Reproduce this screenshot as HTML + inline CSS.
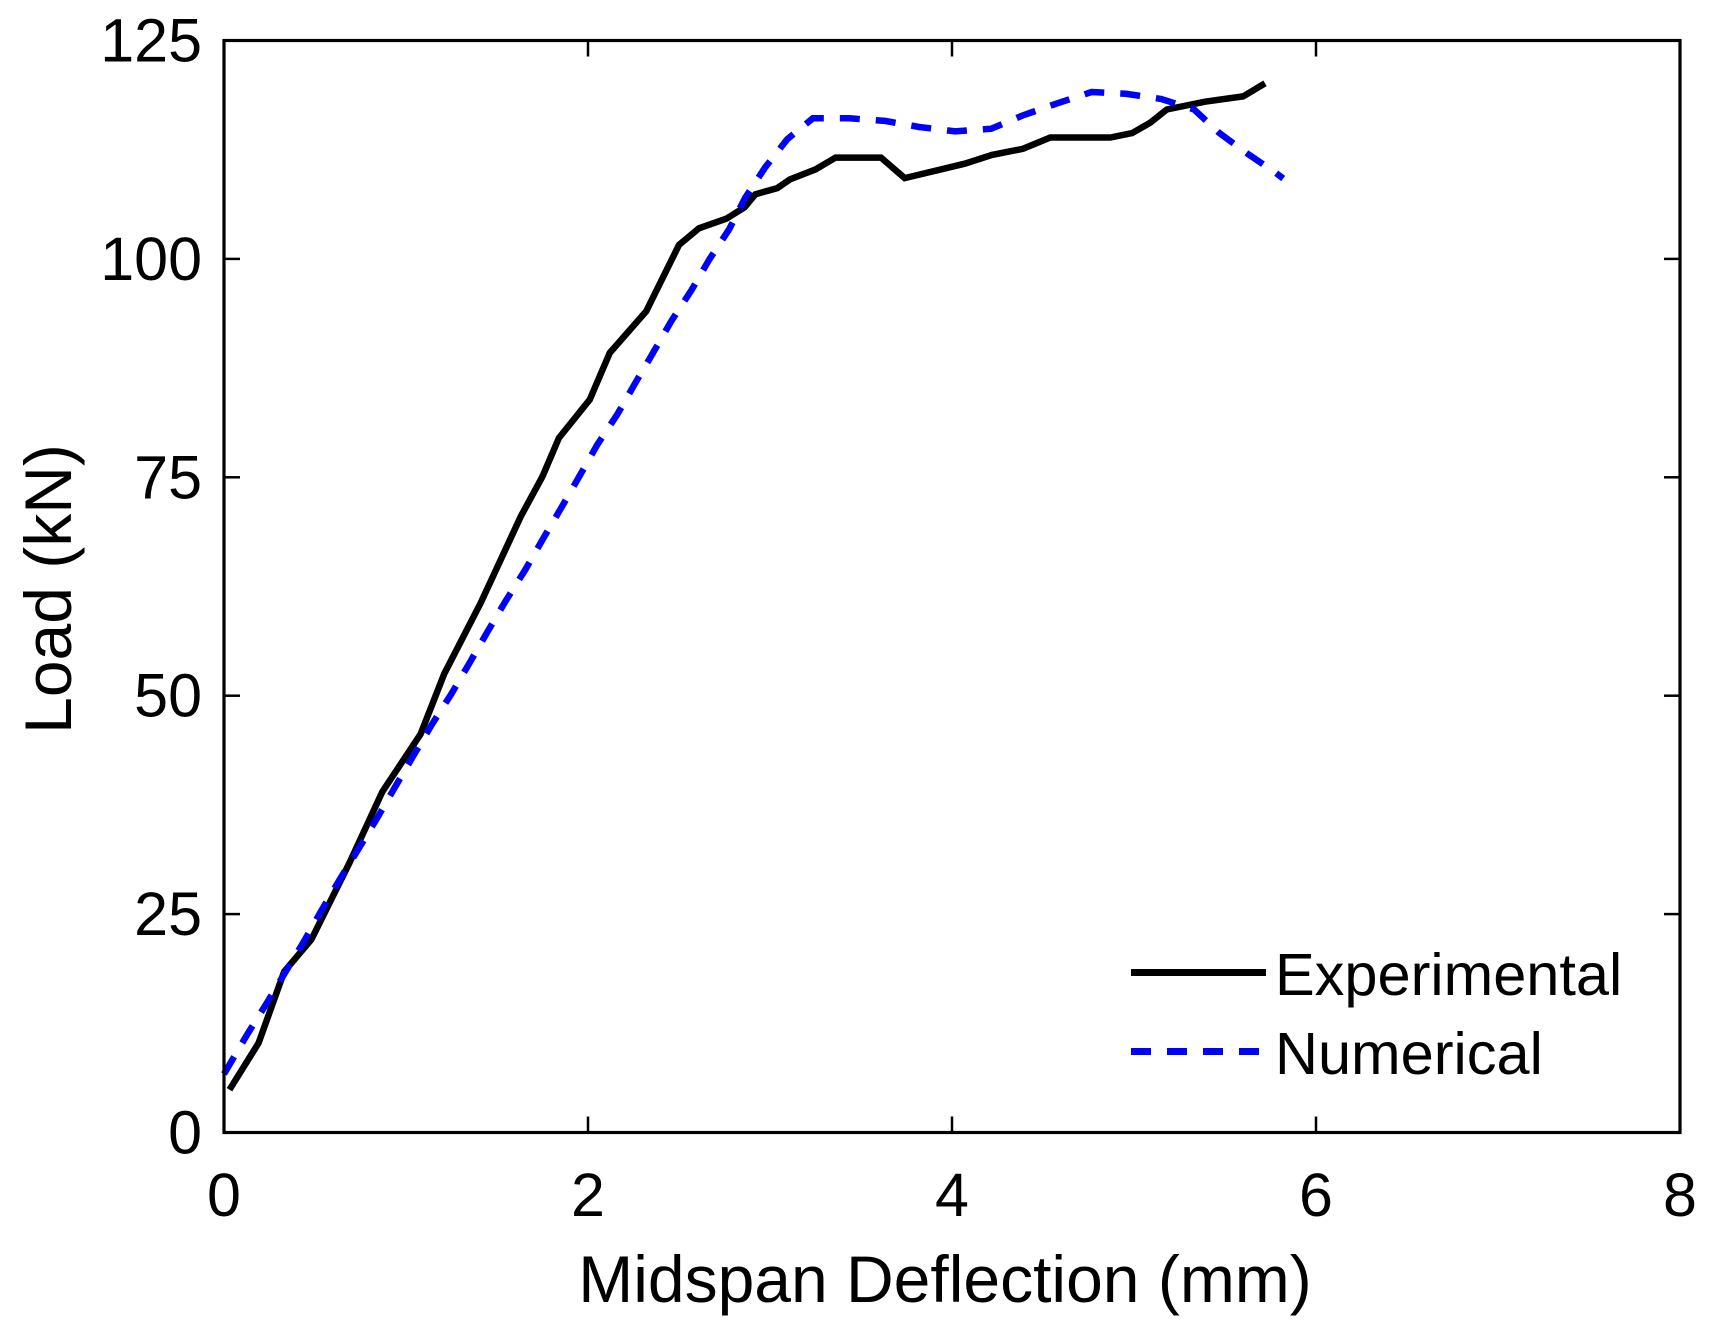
<!DOCTYPE html>
<html lang="en">
<head>
<meta charset="utf-8">
<title>Load vs Midspan Deflection</title>
<style>
html,body{margin:0;padding:0;background:#fff;}
svg{display:block;}
text{font-family:"Liberation Sans",Arial,sans-serif;fill:#000;}
</style>
</head>
<body>
<svg id="chart" xmlns="http://www.w3.org/2000/svg" width="1711" height="1335" viewBox="0 0 1711 1335">
  <rect x="0" y="0" width="1711" height="1335" fill="#fff"/>
  <g id="series"></g>
  <g id="axes"></g>
  <g id="legend"></g>
</svg>
<script>
const xTicks = [0, 2, 4, 6, 8];
const yTicks = [0, 25, 50, 75, 100, 125];
const expDeflection = [0.03,0.19,0.33,0.48,0.69,0.87,1.08,1.21,1.41,1.63,1.75,1.84,2.01,2.12,2.32,2.5,2.61,2.76,2.86,2.92,3.04,3.11,3.25,3.36,3.61,3.74,4.07,4.22,4.39,4.54,4.87,4.99,5.09,5.18,5.39,5.6,5.72];
const expLoad = [4.9,10.25,18.4,22.1,30.9,39,45.6,52.5,60.6,70.5,75.1,79.5,83.9,89.25,94,101.6,103.5,104.6,105.9,107.4,108.1,109.1,110.25,111.6,111.6,109.25,110.9,111.9,112.6,113.9,113.9,114.4,115.6,117.1,118,118.6,120.1];
const numDeflection = [0,0.128,0.231,0.337,0.436,0.535,0.634,0.74,0.842,0.941,1.037,1.139,1.249,1.348,1.447,1.546,1.655,1.754,1.853,1.952,2.05,2.161,2.26,2.359,2.458,2.568,2.667,2.776,2.864,2.974,3.095,3.235,3.437,3.632,3.82,4.017,4.216,4.386,4.577,4.767,4.955,5.15,5.33,5.47,5.62,5.776,5.82];
const numLoad = [6.7,11.24,14.67,18.34,21.77,25.4,28.9,32.5,36,39.6,43,46.6,50.2,53.7,57.3,60.8,64.4,68,71.5,75.1,78.7,82.2,85.8,89.3,92.9,96.4,99.95,103.4,107,110.5,113.7,116.1,116.1,115.8,115.1,114.6,114.9,116.4,117.8,119.1,118.9,118.3,117.1,114.4,112.1,109.9,109.2];

const NS = 'http://www.w3.org/2000/svg';
const plotLeft = 224, plotRight = 1680, plotTop = 40.5, plotBottom = 1132.5;
const xMin = 0, xMax = 8, yMin = 0, yMax = 125;
function xScale(v){ return plotLeft + (v - xMin) / (xMax - xMin) * (plotRight - plotLeft); }
function yScale(v){ return plotBottom - (v - yMin) / (yMax - yMin) * (plotBottom - plotTop); }
function make(tag, attrs, parent, txt){
  const el = document.createElementNS(NS, tag);
  for (const k in attrs) el.setAttribute(k, attrs[k]);
  if (txt !== undefined) el.textContent = txt;
  parent.appendChild(el);
  return el;
}
function pathFrom(xs, ys){
  return xs.map((x, i) => (i ? 'L' : 'M') + xScale(x).toFixed(1) + ' ' + yScale(ys[i]).toFixed(1)).join(' ');
}

const seriesG = document.getElementById('series');
const axesG = document.getElementById('axes');
const legendG = document.getElementById('legend');

const expLine = make('path', {d: pathFrom(expDeflection, expLoad), fill:'none', stroke:'#000', 'stroke-width':6.5, 'stroke-linejoin':'miter'}, seriesG);


const numLine = make('path', {d: pathFrom(numDeflection, numLoad), fill:'none', stroke:'#0000ff', 'stroke-width':6.5, 'stroke-dasharray':'20 16'}, seriesG);



const frame = make('rect', {x:plotLeft, y:plotTop, width:plotRight-plotLeft, height:plotBottom-plotTop, fill:'none', stroke:'#000', 'stroke-width':3.2}, axesG);



const tickLen = 16;
xTicks.forEach(function(t){
  const x = xScale(t);
  const tb = make('line', {x1:x, x2:x, y1:plotBottom, y2:plotBottom-tickLen, stroke:'#000', 'stroke-width':2.5}, axesG);
  
  
  const tt = make('line', {x1:x, x2:x, y1:plotTop, y2:plotTop+tickLen, stroke:'#000', 'stroke-width':2.5}, axesG);
  
  
  const lb = make('text', {x:x, y:1216, 'font-size':61, 'text-anchor':'middle'}, axesG, String(t));
  
  
});
yTicks.forEach(function(t){
  const y = yScale(t);
  const tl = make('line', {x1:plotLeft, x2:plotLeft+tickLen, y1:y, y2:y, stroke:'#000', 'stroke-width':2.5}, axesG);
  
  
  const tr = make('line', {x1:plotRight, x2:plotRight-tickLen, y1:y, y2:y, stroke:'#000', 'stroke-width':2.5}, axesG);
  
  
  const lb = make('text', {x:202, y:y+21, 'font-size':61, 'text-anchor':'end'}, axesG, String(t));
  
  
});

const xTitle = make('text', {x:945, y:1302, 'font-size':66, 'text-anchor':'middle'}, axesG, 'Midspan Deflection (mm)');


const yTitle = make('text', {x:0, y:0, 'font-size':66, 'text-anchor':'middle', transform:'translate(71 589) rotate(-90)'}, axesG, 'Load (kN)');



const legLine1 = make('line', {x1:1131, x2:1266, y1:972.5, y2:972.5, stroke:'#000', 'stroke-width':7}, legendG);


const legText1 = make('text', {x:1275, y:995, 'font-size':59.5}, legendG, 'Experimental');


const legLine2 = make('line', {x1:1131, x2:1260, y1:1051.5, y2:1051.5, stroke:'#0000ff', 'stroke-width':7, 'stroke-dasharray':'20 16'}, legendG);


const legText2 = make('text', {x:1275, y:1074, 'font-size':59.5}, legendG, 'Numerical');


</script>
</body>
</html>
